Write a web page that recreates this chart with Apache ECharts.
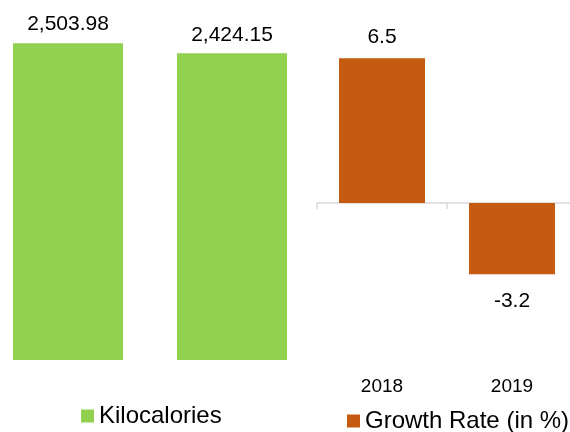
<!DOCTYPE html>
<html>
<head>
<meta charset="utf-8">
<script src="https://cdn.jsdelivr.net/npm/echarts@6/dist/echarts.min.js"></script>
<style>
  html, body { margin: 0; padding: 0; background: #fff; }
  #chart { width: 570px; height: 432px; }
</style>
</head>
<body>
<div id="chart"></div>
<script>
  // data
  var kcalCategories = ['2018', '2019']
  var kcalValues = [2503.98, 2424.15]
  var growthCategories = ['2018', '2019']
  var growthValues = [6.5, -3.2]

  var font = 'Liberation Sans, Arial, sans-serif'

  function fmt(v) {
    return v.toLocaleString('en-US', { minimumFractionDigits: 2, maximumFractionDigits: 2 })
  }

  var chart = echarts.init(document.getElementById('chart'))
  chart.setOption({
    animation: false,
    textStyle: { fontFamily: font },
    legend: [{
      data: ['Kilocalories'],
      left: 81,
      top: 404,
      padding: 0,
      itemWidth: 13,
      itemHeight: 13,
      icon: 'rect',
      textStyle: { fontSize: 24, color: '#000', fontFamily: font }
    }, {
      data: ['Growth Rate (in %)'],
      left: 347,
      top: 409,
      padding: 0,
      itemWidth: 13,
      itemHeight: 13,
      icon: 'rect',
      textStyle: { fontSize: 24, color: '#000', fontFamily: font }
    }],
    grid: [
      { left: -14, width: 328, top: 31, bottom: 72, outerBoundsMode: 'none', containLabel: false },
      { left: 317, width: 260, top: 47, height: 312, outerBoundsMode: 'none', containLabel: false }
    ],
    xAxis: [{
      gridIndex: 0,
      type: 'category',
      data: kcalCategories,
      axisLine: { show: false },
      axisTick: { show: false },
      axisLabel: { show: false }
    }, {
      // zero line with ticks
      gridIndex: 1,
      type: 'category',
      data: growthCategories,
      axisLine: { onZero: true, lineStyle: { color: '#d9d9d9', width: 1.5 } },
      axisTick: { show: true, length: 6, lineStyle: { color: '#d9d9d9', width: 1.5 } },
      axisLabel: { show: false }
    }, {
      // year labels at the bottom
      gridIndex: 1,
      type: 'category',
      position: 'bottom',
      data: growthCategories,
      axisLine: { show: false, onZero: false },
      axisTick: { show: false },
      axisLabel: { margin: 18, fontSize: 19, color: '#000', fontFamily: font }
    }],
    yAxis: [{
      gridIndex: 0,
      type: 'value',
      min: 0,
      max: 2600,
      show: false
    }, {
      gridIndex: 1,
      type: 'value',
      min: -7,
      max: 7,
      show: false
    }],
    series: [{
      name: 'Kilocalories',
      type: 'bar',
      xAxisIndex: 0,
      yAxisIndex: 0,
      barWidth: 110,
      itemStyle: { color: '#92d050' },
      label: {
        show: true,
        position: 'top',
        distance: 8,
        fontSize: 21,
        color: '#000',
        fontFamily: font,
        formatter: function (p) { return fmt(p.value) }
      },
      data: kcalValues
    }, {
      name: 'Growth Rate (in %)',
      type: 'bar',
      xAxisIndex: 1,
      yAxisIndex: 1,
      barWidth: 86,
      itemStyle: { color: '#c55a11' },
      label: {
        show: true,
        fontSize: 21,
        color: '#000',
        fontFamily: font,
        distance: 10
      },
      data: growthValues.map(function (v) {
        return { value: v, label: { position: v < 0 ? 'bottom' : 'top', distance: v < 0 ? 16 : 10 } }
      })
    }]
  })
</script>
</body>
</html>
